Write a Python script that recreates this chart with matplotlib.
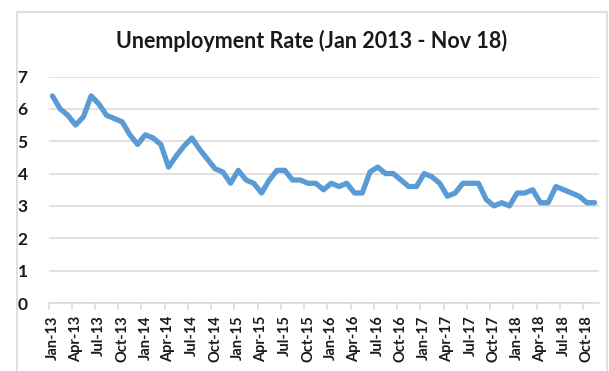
import matplotlib
matplotlib.use("Agg")
import matplotlib.pyplot as plt
from matplotlib.patches import Rectangle

# Monthly unemployment rate, Jan 2013 - Nov 2018
years = [13, 14, 15, 16, 17, 18]
month_names = ["Jan", "Feb", "Mar", "Apr", "May", "Jun",
               "Jul", "Aug", "Sep", "Oct", "Nov", "Dec"]
months = [f"{m}-{y}" for y in years for m in month_names][:71]

rate = [
    6.4, 6.0, 5.8, 5.5, 5.75, 6.4, 6.15, 5.8, 5.7, 5.6, 5.2, 4.9,   # 2013
    5.2, 5.1, 4.9, 4.2, 4.55, 4.85, 5.1, 4.75, 4.45, 4.15, 4.05, 3.7,  # 2014
    4.1, 3.8, 3.7, 3.4, 3.8, 4.1, 4.1, 3.8, 3.8, 3.7, 3.7, 3.5,   # 2015
    3.7, 3.6, 3.7, 3.4, 3.4, 4.05, 4.2, 4.0, 4.0, 3.8, 3.6, 3.6,  # 2016
    4.0, 3.9, 3.7, 3.3, 3.4, 3.7, 3.7, 3.7, 3.2, 3.0, 3.1, 3.0,   # 2017
    3.4, 3.4, 3.5, 3.1, 3.1, 3.6, 3.5, 3.4, 3.3, 3.1, 3.1,        # 2018
]

title = "Unemployment Rate (Jan 2013 - Nov 18)"
yticks = [0, 1, 2, 3, 4, 5, 6, 7]

W, H = 609, 371
fig = plt.figure(figsize=(W / 100, H / 100), dpi=100)
fig.patch.set_facecolor("white")

# chart frame
fig.patches.append(Rectangle((17 / W, -0.05), (607 - 17) / W, 1.05 - 12 / H,
                             transform=fig.transFigure, fill=False,
                             edgecolor="#D9D9D9", linewidth=1.2))

left, right, top, bottom = 48.5, 598.5, 76.5, 303
ax = fig.add_axes([left / W, 1 - bottom / H, (right - left) / W, (bottom - top) / H])

x = list(range(len(rate)))
ax.plot(x, rate, color="#5B9BD5", linewidth=3.8, solid_joinstyle="round",
        solid_capstyle="round", zorder=3)

ax.set_xlim(-0.5, len(rate) - 0.5)
ax.set_ylim(0, 7)
ax.set_yticks(yticks)
ax.set_yticklabels([str(v) for v in yticks], fontfamily="Lato",
                   fontweight="bold", fontsize=12.5, color="#1a1a1a")
ax.grid(axis="y", color="#D9D9D9", linewidth=1.1, zorder=0)
ax.tick_params(axis="y", length=0, pad=15)

# category axis: labels every 3 months, tick marks on the boundaries
label_pos = list(range(0, len(rate), 3))
ax.set_xticks(label_pos)
ax.set_xticklabels([months[i] for i in label_pos], rotation=90,
                   fontfamily="Lato", fontweight="bold", fontsize=10.5,
                   color="#1a1a1a")
ax.set_xticks([i - 0.5 for i in range(0, len(rate) + 1, 3)], minor=True)
ax.tick_params(axis="x", which="major", length=0, pad=9)
ax.tick_params(axis="x", which="minor", length=5, color="#D9D9D9", width=1.1)

for s in ["top", "right", "left"]:
    ax.spines[s].set_visible(False)
ax.spines["bottom"].set_color("#D9D9D9")
ax.spines["bottom"].set_linewidth(1.1)

fig.text(312 / W, 1 - 41 / H, title, ha="center", va="center",
         fontfamily="Lato", fontweight="bold", fontsize=15.5, color="#1a1a1a")

fig.savefig("out.png", dpi=100)
